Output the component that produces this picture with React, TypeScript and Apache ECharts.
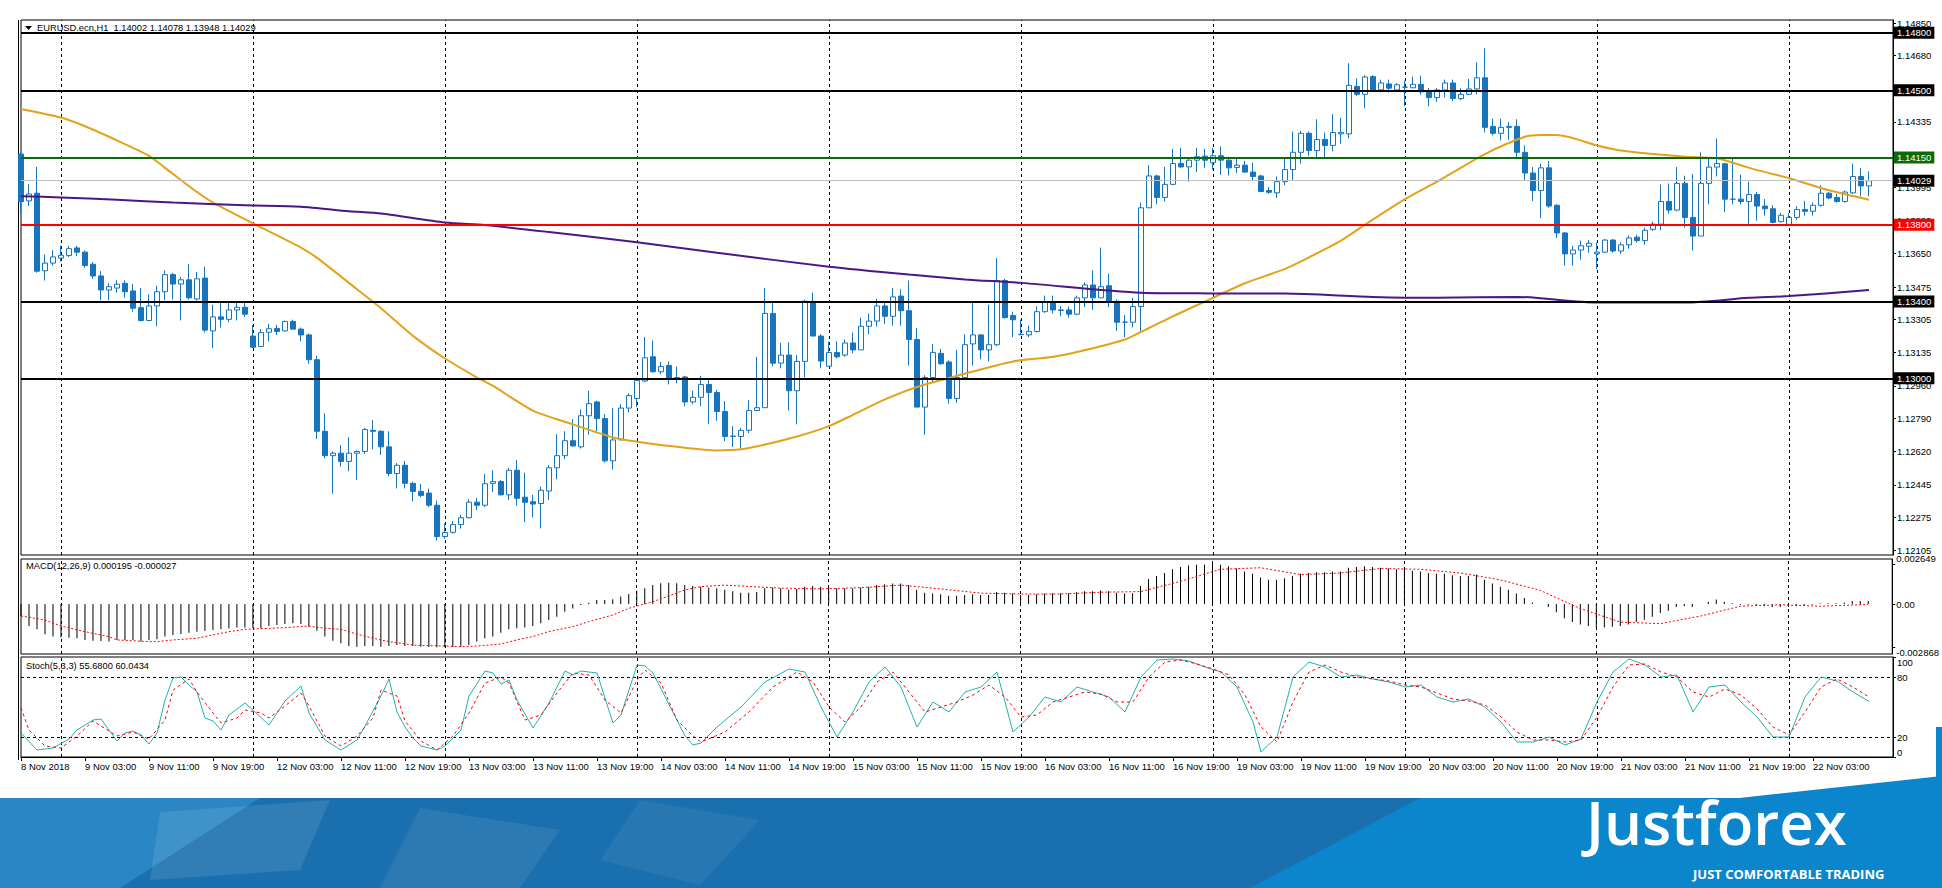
import React, { useEffect, useRef } from 'react';
import * as echarts from 'echarts';

const FONT = "'Liberation Sans', Arial, sans-serif";

// x-axis labels, one every 8 hourly bars starting at bar 0 (8 Nov 19:00)
const xLabels = ['8 Nov 2018', '9 Nov 03:00', '9 Nov 11:00', '9 Nov 19:00', '12 Nov 03:00', '12 Nov 11:00', '12 Nov 19:00', '13 Nov 03:00', '13 Nov 11:00', '13 Nov 19:00', '14 Nov 03:00', '14 Nov 11:00', '14 Nov 19:00', '15 Nov 03:00', '15 Nov 11:00', '15 Nov 19:00', '16 Nov 03:00', '16 Nov 11:00', '16 Nov 19:00', '19 Nov 03:00', '19 Nov 11:00', '19 Nov 19:00', '20 Nov 03:00', '20 Nov 11:00', '20 Nov 19:00', '21 Nov 03:00', '21 Nov 11:00', '21 Nov 19:00', '22 Nov 03:00'];

// price-axis tick labels (top to bottom)
const priceTicks = ['1.14850', '1.14680', '1.14510', '1.14335', '1.14165', '1.13995', '1.13820', '1.13650', '1.13475', '1.13305', '1.13135', '1.12960', '1.12790', '1.12620', '1.12445', '1.12275', '1.12105'];
const macdTicks = [0.002649, 0, -0.002868];
const stochTicks = [0, 20, 80, 100];

// hourly candles: [open, high, low, close]
const candles: number[][] = [
  [1.14168, 1.14180, 1.13860, 1.13920], [1.13924, 1.14011, 1.13897, 1.13960], [1.13964, 1.14101, 1.13550, 1.13558], [1.13560, 1.13645, 1.13509, 1.13600],
  [1.13600, 1.13668, 1.13587, 1.13632], [1.13626, 1.13690, 1.13608, 1.13641], [1.13639, 1.13690, 1.13632, 1.13675], [1.13679, 1.13690, 1.13636, 1.13657],
  [1.13657, 1.13666, 1.13576, 1.13587], [1.13594, 1.13605, 1.13518, 1.13533], [1.13533, 1.13558, 1.13406, 1.13460], [1.13460, 1.13495, 1.13406, 1.13477],
  [1.13470, 1.13510, 1.13446, 1.13490], [1.13495, 1.13510, 1.13419, 1.13451], [1.13455, 1.13490, 1.13347, 1.13365], [1.13368, 1.13470, 1.13296, 1.13301],
  [1.13301, 1.13437, 1.13301, 1.13377], [1.13377, 1.13482, 1.13271, 1.13451], [1.13451, 1.13563, 1.13406, 1.13540], [1.13540, 1.13549, 1.13410, 1.13491],
  [1.13491, 1.13527, 1.13301, 1.13513], [1.13513, 1.13596, 1.13410, 1.13419], [1.13413, 1.13554, 1.13404, 1.13518], [1.13522, 1.13581, 1.13238, 1.13251],
  [1.13247, 1.13383, 1.13157, 1.13320], [1.13320, 1.13392, 1.13265, 1.13307], [1.13307, 1.13392, 1.13292, 1.13356], [1.13356, 1.13392, 1.13301, 1.13370],
  [1.13370, 1.13392, 1.13320, 1.13334], [1.13220, 1.13278, 1.13157, 1.13162], [1.13166, 1.13256, 1.13166, 1.13238], [1.13240, 1.13283, 1.13193, 1.13258],
  [1.13260, 1.13278, 1.13226, 1.13244], [1.13247, 1.13301, 1.13244, 1.13296], [1.13296, 1.13305, 1.13256, 1.13256], [1.13256, 1.13265, 1.13193, 1.13226],
  [1.13226, 1.13233, 1.13076, 1.13097], [1.13097, 1.13117, 1.12684, 1.12724], [1.12724, 1.12818, 1.12583, 1.12597], [1.12597, 1.12619, 1.12399, 1.12610],
  [1.12610, 1.12652, 1.12540, 1.12567], [1.12567, 1.12693, 1.12516, 1.12610], [1.12610, 1.12625, 1.12471, 1.12619], [1.12619, 1.12742, 1.12606, 1.12733],
  [1.12729, 1.12782, 1.12630, 1.12724], [1.12724, 1.12729, 1.12601, 1.12643], [1.12643, 1.12724, 1.12489, 1.12504], [1.12504, 1.12558, 1.12426, 1.12547],
  [1.12547, 1.12570, 1.12426, 1.12453], [1.12453, 1.12462, 1.12359, 1.12411], [1.12411, 1.12449, 1.12381, 1.12390], [1.12402, 1.12426, 1.12330, 1.12339],
  [1.12339, 1.12363, 1.12155, 1.12176], [1.12176, 1.12244, 1.12164, 1.12197], [1.12198, 1.12256, 1.12191, 1.12238], [1.12238, 1.12289, 1.12217, 1.12274],
  [1.12274, 1.12370, 1.12270, 1.12355], [1.12355, 1.12377, 1.12314, 1.12339], [1.12339, 1.12502, 1.12330, 1.12451], [1.12453, 1.12521, 1.12408, 1.12462],
  [1.12462, 1.12470, 1.12390, 1.12393], [1.12393, 1.12534, 1.12366, 1.12521], [1.12521, 1.12574, 1.12336, 1.12375], [1.12381, 1.12508, 1.12251, 1.12354],
  [1.12357, 1.12393, 1.12276, 1.12345], [1.12348, 1.12435, 1.12218, 1.12417], [1.12413, 1.12547, 1.12366, 1.12534], [1.12534, 1.12709, 1.12474, 1.12597],
  [1.12597, 1.12724, 1.12579, 1.12675], [1.12675, 1.12787, 1.12643, 1.12648], [1.12643, 1.12838, 1.12634, 1.12805], [1.12805, 1.12935, 1.12706, 1.12868],
  [1.12877, 1.12883, 1.12724, 1.12790], [1.12790, 1.12814, 1.12561, 1.12570], [1.12570, 1.12845, 1.12525, 1.12679], [1.12679, 1.12865, 1.12679, 1.12845],
  [1.12845, 1.12922, 1.12823, 1.12910], [1.12895, 1.13004, 1.12850, 1.12989], [1.12986, 1.13215, 1.12980, 1.13107], [1.13112, 1.13197, 1.13031, 1.13034],
  [1.13034, 1.13085, 1.13022, 1.13061], [1.13067, 1.13088, 1.12968, 1.12998], [1.13004, 1.13061, 1.12973, 1.12998], [1.13007, 1.13013, 1.12854, 1.12877],
  [1.12877, 1.12935, 1.12865, 1.12901], [1.12901, 1.13013, 1.12854, 1.12968], [1.12968, 1.12995, 1.12763, 1.12926], [1.12926, 1.12940, 1.12779, 1.12827],
  [1.12827, 1.12881, 1.12673, 1.12697], [1.12697, 1.12751, 1.12643, 1.12699], [1.12697, 1.12742, 1.12634, 1.12729], [1.12729, 1.12886, 1.12715, 1.12832],
  [1.12832, 1.13112, 1.12832, 1.12847], [1.12847, 1.13470, 1.12847, 1.13338], [1.13338, 1.13395, 1.13063, 1.13079], [1.13079, 1.13184, 1.13052, 1.13121],
  [1.13121, 1.13188, 1.12832, 1.12935], [1.12935, 1.13121, 1.12760, 1.13088], [1.13088, 1.13410, 1.13004, 1.13401], [1.13401, 1.13446, 1.13220, 1.13220],
  [1.13220, 1.13229, 1.13052, 1.13090], [1.13063, 1.13190, 1.13063, 1.13134], [1.13134, 1.13193, 1.13103, 1.13112], [1.13121, 1.13202, 1.13112, 1.13184],
  [1.13184, 1.13238, 1.13130, 1.13148], [1.13148, 1.13316, 1.13148, 1.13271], [1.13271, 1.13338, 1.13229, 1.13298], [1.13298, 1.13413, 1.13269, 1.13377],
  [1.13377, 1.13399, 1.13283, 1.13323], [1.13323, 1.13470, 1.13274, 1.13424], [1.13428, 1.13464, 1.13274, 1.13352], [1.13352, 1.13509, 1.13067, 1.13202],
  [1.13202, 1.13262, 1.12850, 1.12850], [1.12850, 1.13016, 1.12706, 1.13004], [1.13004, 1.13179, 1.12977, 1.13135], [1.13130, 1.13153, 1.13070, 1.13076],
  [1.13085, 1.13094, 1.12868, 1.12895], [1.12895, 1.13148, 1.12872, 1.13004], [1.13004, 1.13229, 1.13004, 1.13175], [1.13179, 1.13395, 1.13067, 1.13226],
  [1.13226, 1.13229, 1.13099, 1.13148], [1.13148, 1.13383, 1.13088, 1.13175], [1.13175, 1.13626, 1.13166, 1.13509], [1.13509, 1.13518, 1.13311, 1.13316],
  [1.13327, 1.13347, 1.13215, 1.13305], [1.13227, 1.13305, 1.13226, 1.13229], [1.13226, 1.13274, 1.13215, 1.13244], [1.13244, 1.13374, 1.13238, 1.13347],
  [1.13347, 1.13431, 1.13341, 1.13395], [1.13395, 1.13431, 1.13338, 1.13356], [1.13356, 1.13377, 1.13323, 1.13353], [1.13356, 1.13374, 1.13316, 1.13334],
  [1.13334, 1.13431, 1.13329, 1.13419], [1.13419, 1.13500, 1.13370, 1.13486], [1.13486, 1.13563, 1.13356, 1.13419], [1.13419, 1.13681, 1.13419, 1.13477],
  [1.13482, 1.13545, 1.13370, 1.13401], [1.13401, 1.13410, 1.13247, 1.13292], [1.13292, 1.13329, 1.13215, 1.13292], [1.13292, 1.13419, 1.13265, 1.13374],
  [1.13374, 1.13915, 1.13244, 1.13888], [1.13888, 1.14110, 1.13888, 1.14054], [1.14054, 1.14060, 1.13906, 1.13942], [1.13942, 1.14101, 1.13921, 1.14010],
  [1.14010, 1.14195, 1.14006, 1.14119], [1.14119, 1.14200, 1.14096, 1.14101], [1.14101, 1.14141, 1.14024, 1.14136], [1.14136, 1.14200, 1.14074, 1.14154],
  [1.14157, 1.14195, 1.14096, 1.14136], [1.14123, 1.14200, 1.14087, 1.14159], [1.14159, 1.14207, 1.14060, 1.14136], [1.14136, 1.14154, 1.14056, 1.14096],
  [1.14098, 1.14150, 1.14069, 1.14110], [1.14110, 1.14132, 1.14069, 1.14074], [1.14074, 1.14123, 1.14033, 1.14051], [1.14054, 1.14060, 1.13969, 1.13973],
  [1.13978, 1.13996, 1.13960, 1.13969], [1.13966, 1.14051, 1.13939, 1.14024], [1.14024, 1.14150, 1.14006, 1.14087], [1.14087, 1.14285, 1.14028, 1.14177],
  [1.14177, 1.14289, 1.14118, 1.14276], [1.14276, 1.14285, 1.14159, 1.14186], [1.14186, 1.14349, 1.14150, 1.14244], [1.14244, 1.14280, 1.14150, 1.14213],
  [1.14213, 1.14376, 1.14182, 1.14280], [1.14273, 1.14356, 1.14222, 1.14280], [1.14273, 1.14641, 1.14250, 1.14526], [1.14520, 1.14562, 1.14471, 1.14479],
  [1.14479, 1.14579, 1.14406, 1.14569], [1.14571, 1.14579, 1.14497, 1.14502], [1.14502, 1.14556, 1.14489, 1.14538], [1.14533, 1.14556, 1.14489, 1.14511],
  [1.14502, 1.14538, 1.14497, 1.14529], [1.14516, 1.14550, 1.14417, 1.14516], [1.14513, 1.14571, 1.14511, 1.14531], [1.14531, 1.14576, 1.14477, 1.14492],
  [1.14492, 1.14511, 1.14417, 1.14462], [1.14462, 1.14511, 1.14440, 1.14502], [1.14502, 1.14556, 1.14462, 1.14538], [1.14538, 1.14556, 1.14444, 1.14457],
  [1.14457, 1.14511, 1.14448, 1.14479], [1.14479, 1.14559, 1.14475, 1.14507], [1.14507, 1.14646, 1.14479, 1.14565], [1.14565, 1.14719, 1.14280, 1.14307],
  [1.14312, 1.14352, 1.14265, 1.14276], [1.14276, 1.14352, 1.14239, 1.14307], [1.14312, 1.14334, 1.14242, 1.14307], [1.14312, 1.14349, 1.14141, 1.14177],
  [1.14177, 1.14213, 1.14033, 1.14069], [1.14069, 1.14100, 1.13924, 1.13978], [1.13978, 1.14118, 1.13834, 1.14096], [1.14096, 1.14132, 1.13888, 1.13897],
  [1.13901, 1.13906, 1.13731, 1.13757], [1.13757, 1.13762, 1.13587, 1.13648], [1.13648, 1.13690, 1.13587, 1.13668], [1.13668, 1.13717, 1.13618, 1.13690],
  [1.13688, 1.13720, 1.13654, 1.13703], [1.13648, 1.13708, 1.13569, 1.13657], [1.13657, 1.13726, 1.13654, 1.13720], [1.13720, 1.13726, 1.13654, 1.13663],
  [1.13663, 1.13708, 1.13648, 1.13695], [1.13695, 1.13744, 1.13675, 1.13731], [1.13735, 1.13748, 1.13706, 1.13717], [1.13717, 1.13785, 1.13695, 1.13771],
  [1.13776, 1.13816, 1.13767, 1.13803], [1.13803, 1.14009, 1.13771, 1.13921], [1.13921, 1.14015, 1.13858, 1.13876], [1.13876, 1.14100, 1.13870, 1.14015],
  [1.14015, 1.14055, 1.13785, 1.13838], [1.13838, 1.14064, 1.13666, 1.13741], [1.13741, 1.14177, 1.13741, 1.14015], [1.14015, 1.14150, 1.13906, 1.14100],
  [1.14100, 1.14249, 1.14051, 1.14119], [1.14117, 1.14123, 1.13865, 1.13933], [1.13933, 1.14150, 1.13906, 1.13933], [1.13933, 1.14060, 1.13906, 1.13921],
  [1.13921, 1.14024, 1.13794, 1.13957], [1.13957, 1.13970, 1.13821, 1.13897], [1.13897, 1.13933, 1.13847, 1.13883], [1.13883, 1.13901, 1.13807, 1.13812],
  [1.13816, 1.13861, 1.13811, 1.13849], [1.13802, 1.13861, 1.13798, 1.13838], [1.13838, 1.13897, 1.13825, 1.13879], [1.13879, 1.13924, 1.13847, 1.13870],
  [1.13870, 1.13915, 1.13847, 1.13901], [1.13901, 1.14006, 1.13894, 1.13964], [1.13964, 1.13970, 1.13933, 1.13939], [1.13942, 1.13960, 1.13915, 1.13921],
  [1.13921, 1.13978, 1.13915, 1.13970], [1.13966, 1.14118, 1.13960, 1.14051], [1.14051, 1.14096, 1.13948, 1.14002], [1.14002, 1.14078, 1.13948, 1.14029],
];

// moving averages read at points: [bar index, value]
const maFast: number[][] = [[0, 1.14403], [5, 1.14358], [8, 1.14313], [11, 1.14258], [16, 1.14159], [18, 1.14096], [22, 1.13970], [24, 1.13915], [29, 1.13807], [35, 1.13681], [37, 1.13627], [42, 1.13464], [45, 1.13365], [49, 1.13221], [53, 1.13103], [57, 1.13004], [59, 1.12960], [64, 1.12832], [69, 1.12760], [74, 1.12692], [77, 1.12670], [82, 1.12643], [87, 1.12624], [90, 1.12630], [93, 1.12655], [97, 1.12697], [101, 1.12751], [104, 1.12810], [108, 1.12890], [112, 1.12955], [117, 1.13013], [124, 1.13088], [129, 1.13112], [134, 1.13157], [138, 1.13202], [141, 1.13262], [144, 1.13323], [149, 1.13419], [153, 1.13495], [158, 1.13570], [161, 1.13630], [165, 1.13717], [168, 1.13800], [173, 1.13933], [177, 1.14024], [183, 1.14168], [188, 1.14258], [190, 1.14267], [192, 1.14267], [197, 1.14213], [200, 1.14186], [208, 1.14154], [212, 1.14146], [216, 1.14096], [221, 1.14042], [226, 1.13979], [231, 1.13930]];
const maSlow: number[][] = [[0, 1.13948], [5, 1.13942], [12, 1.13930], [19, 1.13915], [28, 1.13901], [35, 1.13894], [41, 1.13870], [45, 1.13858], [53, 1.13811], [58, 1.13798], [66, 1.13762], [77, 1.13708], [87, 1.13654], [101, 1.13581], [111, 1.13540], [118, 1.13515], [125, 1.13497], [140, 1.13446], [149, 1.13442], [158, 1.13441], [169, 1.13424], [177, 1.13419], [187, 1.13424], [197, 1.13395], [208, 1.13395], [216, 1.13419], [221, 1.13428], [231, 1.13460]];

// MACD histogram per bar, in units of 0.001
const macdHistE3 = [
  -0.79, -1.46, -1.68, -2.01, -2.16, -2.21, -2.23, -2.27, -2.38, -2.43,
  -2.45, -2.49, -2.38, -2.38, -2.38, -2.49, -2.38, -2.34, -2.16, -2.05,
  -1.99, -1.90, -1.83, -1.77, -1.72, -1.68, -1.61, -1.55, -1.55, -1.57,
  -1.61, -1.46, -1.39, -1.32, -1.28, -1.32, -1.50, -1.77, -2.16, -2.43,
  -2.60, -2.78, -2.83, -2.78, -2.78, -2.83, -2.78, -2.72, -2.78, -2.78,
  -2.83, -2.85, -2.86, -2.868, -2.85, -2.83, -2.72, -2.49, -2.27, -2.16,
  -1.90, -1.68, -1.61, -1.55, -1.46, -1.28, -1.06, -0.84, -0.51, -0.29,
  -0.07, 0.09, 0.26, 0.26, 0.31, 0.49, 0.66, 0.88, 1.04, 1.26,
  1.37, 1.41, 1.37, 1.26, 1.19,
  1.15, 1.10, 1.05, 0.95, 0.85, 0.75,
  0.75, 0.80, 1.05, 1.10, 1.05, 0.95,
  1.00, 1.15, 1.20, 1.15, 1.10, 1.05, 1.05, 1.05,
  1.10, 1.15, 1.25, 1.30, 1.35, 1.35, 1.25, 0.95,
  0.75, 0.70, 0.65, 0.55, 0.55, 0.60, 0.65,
  0.60, 0.60, 0.80, 0.75, 0.70, 0.60, 0.60,
  0.65, 0.70, 0.72, 0.72, 0.72, 0.78, 0.85, 0.85, 0.90, 0.85, 0.75, 0.70, 0.72,
  1.20, 1.65, 1.85, 2.05, 2.30, 2.45, 2.55, 2.60, 2.62, 2.649, 2.60, 2.50, 2.35,
  2.15, 2.00, 1.75, 1.60, 1.60, 1.70, 1.85, 2.00,
  2.05, 2.10, 2.10, 2.15, 2.15, 2.40, 2.45, 2.50, 2.45, 2.40,
  2.35, 2.30, 2.25, 2.20, 2.15, 2.05, 2.00, 2.00, 1.90, 1.85, 1.85, 1.95,
  1.60, 1.35, 1.15, 0.95, 0.70, 0.40, 0.10, 0.00,
  -0.20, -0.55, -0.95, -1.20, -1.35, -1.45, -1.55, -1.55, -1.50, -1.45, -1.35, -1.20, -1.05,
  -0.85, -0.60, -0.45, -0.20, -0.15, -0.20, 0.00, 0.15, 0.30,
  0.15, 0.05, -0.05, -0.05, -0.10, -0.15, -0.20, -0.20, -0.20, -0.15, -0.10, -0.05, 0.05, 0.05, 0.05, 0.10, 0.20, 0.20, 0.195,
];
// MACD signal read at points: [bar index, value x 0.001]
const macdSignalE3: number[][] = [[0, -0.79], [3, -1.06], [5, -1.46], [8, -1.83], [11, -2.16], [12, -2.38], [16, -2.49], [17, -2.49], [19, -2.38], [22, -2.27], [24, -2.05], [26, -1.83], [28, -1.68], [31, -1.61], [33, -1.57], [36, -1.46], [37, -1.55], [40, -1.68], [42, -1.99], [44, -2.27], [46, -2.49], [49, -2.72], [51, -2.76], [53, -2.78], [55, -2.83], [57, -2.78], [60, -2.65], [62, -2.38], [64, -2.16], [66, -1.83], [69, -1.50], [71, -1.17], [74, -0.73], [76, -0.29], [79, 0.15], [81, 0.53], [83, 0.93], [85, 1.15], [88, 1.25], [95, 1.05], [100, 1.0], [105, 1.08], [110, 1.25], [115, 1.0], [120, 0.72], [125, 0.66], [130, 0.66], [135, 0.78], [140, 0.82], [145, 1.5], [150, 2.3], [155, 2.4], [160, 1.95], [165, 2.05], [170, 2.35], [175, 2.3], [180, 2.05], [185, 1.6], [190, 0.9], [195, -0.3], [200, -1.2], [205, -1.3], [210, -0.8], [215, -0.15], [220, -0.05], [225, -0.15], [231, -0.027]];

// Stochastic %K and %D read at points: [bar index, value]
const stochK: number[][] = [[0, 24], [2, 7], [4, 9], [6, 18], [7, 27], [9, 37], [10, 38], [12, 16], [13, 24], [14, 26], [15, 22], [16, 13], [17, 24], [18, 57], [19, 79], [20, 80], [21, 72], [22, 65], [23, 39], [24, 36], [25, 27], [26, 42], [28, 54], [29, 47], [31, 32], [33, 56], [35, 71], [36, 44], [38, 17], [40, 7], [42, 17], [43, 31], [45, 61], [46, 78], [47, 45], [48, 30], [49, 19], [50, 11], [52, 7], [53, 11], [55, 27], [56, 61], [58, 86], [59, 84], [60, 73], [61, 77], [62, 57], [64, 29], [66, 54], [68, 86], [69, 82], [70, 86], [72, 84], [74, 34], [75, 42], [77, 92], [78, 91], [79, 84], [83, 21], [84, 12], [85, 14], [87, 30], [90, 50], [93, 75], [96, 88], [98, 85], [100, 50], [102, 20], [104, 45], [106, 75], [108, 90], [110, 70], [112, 30], [114, 55], [116, 45], [118, 65], [120, 70], [122, 85], [124, 25], [126, 40], [128, 60], [130, 55], [132, 70], [134, 65], [136, 60], [138, 45], [140, 80], [142, 97], [144, 98], [146, 96], [148, 90], [150, 85], [152, 70], [154, 35], [155, 5], [157, 20], [159, 80], [161, 95], [163, 90], [165, 80], [167, 82], [169, 78], [171, 75], [173, 70], [175, 72], [177, 60], [179, 55], [181, 58], [183, 50], [185, 35], [187, 15], [189, 15], [191, 20], [193, 12], [195, 18], [197, 55], [199, 85], [201, 98], [203, 92], [205, 80], [207, 82], [209, 45], [211, 70], [213, 72], [215, 55], [217, 40], [219, 20], [221, 20], [223, 60], [225, 80], [227, 76], [229, 65], [231, 55.68]];
const stochD: number[][] = [[0, 49], [1, 27], [3, 11], [5, 9], [7, 21], [9, 36], [10, 31], [12, 21], [14, 25], [16, 18], [18, 37], [19, 67], [21, 78], [22, 65], [24, 44], [25, 34], [27, 39], [28, 47], [30, 44], [31, 39], [33, 51], [35, 64], [36, 51], [38, 21], [40, 11], [42, 21], [44, 39], [45, 67], [47, 61], [48, 36], [50, 16], [52, 7], [54, 21], [56, 44], [58, 74], [60, 80], [61, 74], [63, 37], [65, 42], [67, 64], [69, 84], [71, 82], [73, 57], [75, 44], [77, 77], [78, 87], [80, 74], [82, 37], [84, 21], [85, 15], [88, 25], [91, 45], [94, 70], [97, 85], [99, 75], [101, 50], [103, 35], [105, 50], [107, 75], [109, 85], [111, 65], [113, 45], [115, 50], [117, 55], [119, 62], [121, 72], [123, 60], [125, 40], [127, 42], [129, 55], [131, 60], [133, 65], [135, 63], [137, 55], [139, 55], [141, 80], [143, 95], [145, 97], [147, 93], [149, 88], [151, 82], [153, 62], [155, 30], [157, 15], [159, 55], [161, 85], [163, 92], [165, 85], [167, 80], [169, 78], [171, 76], [173, 72], [175, 70], [177, 64], [179, 58], [181, 56], [183, 52], [185, 40], [187, 25], [189, 17], [191, 17], [193, 15], [195, 17], [197, 40], [199, 70], [201, 92], [203, 93], [205, 85], [207, 80], [209, 65], [211, 60], [213, 68], [215, 62], [217, 48], [219, 30], [221, 22], [223, 45], [225, 70], [227, 78], [229, 70], [231, 60.04]];

// horizontal levels
const levels = [
  { value: 1.148, color: '#000000', bg: '#000000' },
  { value: 1.145, color: '#000000', bg: '#000000' },
  { value: 1.1415, color: '#0b6b0b', bg: '#0b6b0b' },
  { value: 1.138, color: '#ff0000', bg: '#ff0000' },
  { value: 1.134, color: '#000000', bg: '#000000' },
  { value: 1.13, color: '#000000', bg: '#000000' },
];
const lastPrice = 1.14029;
const dayGridBars = [5, 29, 53, 77, 101, 125, 149, 173, 197, 221];
const header = 'EURUSD.ecn,H1  1.14002 1.14078 1.13948 1.14029';
const macdTitle = 'MACD(12,26,9) 0.000195 -0.000027';
const stochTitle = 'Stoch(5,3,3) 55.6800 60.0434';

const NCAT = 235;

export default function App() {
  const ref = useRef<HTMLDivElement>(null);
  useEffect(() => {
    const chart = echarts.init(ref.current!, null, { renderer: 'svg' });
    const cats = Array.from({ length: NCAT }, (_, i) => (i % 8 === 0 && i / 8 < xLabels.length ? xLabels[i / 8] : ''));
    const labelIdx = (i: number) => i % 8 === 0 && i / 8 < xLabels.length;
    const vLines = {
      symbol: 'none', silent: true, z: 1, animation: false, precision: 5,
      label: { show: false },
      lineStyle: { color: '#000', type: [3, 3], width: 1 },
      data: dayGridBars.map((b) => ({ xAxis: b })),
    };
    const gridCommon = { left: 21, width: 1872, show: true, borderColor: '#000', borderWidth: 1, backgroundColor: '#fff' };
    const hiddenX = (gi: number) => ({
      type: 'category', gridIndex: gi, data: cats, boundaryGap: false,
      axisLine: { show: false }, axisTick: { show: false }, axisLabel: { show: false }, splitLine: { show: false },
    });
    const lbl = { fontFamily: FONT, fontSize: 9.5, color: '#000' };
    const boxLabel = (text: string, bg: string) => ({
      show: true, position: 'end', distance: 1, formatter: text, color: '#fff', backgroundColor: bg,
      padding: [1, 3, 0, 3], fontFamily: FONT, fontSize: 9.5, lineHeight: 11,
    });

    const option: any = {
      animation: false,
      backgroundColor: '#fff',
      grid: [
        { ...gridCommon, top: 20, height: 535 },
        { ...gridCommon, top: 559, height: 95 },
        { ...gridCommon, top: 657, height: 100 },
      ],
      xAxis: [
        hiddenX(0),
        hiddenX(1),
        {
          type: 'category', gridIndex: 2, data: cats, boundaryGap: false,
          axisLine: { show: true, lineStyle: { color: '#000' } },
          axisTick: { show: true, interval: (i: number) => labelIdx(i), length: 4, lineStyle: { color: '#000' } },
          axisLabel: { show: true, interval: (i: number) => labelIdx(i), align: 'left', margin: 4, ...lbl },
          splitLine: { show: false },
        },
      ],
      yAxis: [
        {
          type: 'value', gridIndex: 0, position: 'right', scale: true, min: 1.120797, max: 1.148661,
          axisLine: { show: true, lineStyle: { color: '#000' } },
          axisTick: { show: true, length: 3, customValues: priceTicks.map(Number), lineStyle: { color: '#000' } },
          axisLabel: { show: true, margin: 4, customValues: priceTicks.map(Number), formatter: (v: number) => v.toFixed(5), ...lbl },
          splitLine: { show: false },
        },
        {
          type: 'value', gridIndex: 1, position: 'right', min: -0.003311, max: 0.00298,
          axisLine: { show: true, lineStyle: { color: '#000' } },
          axisTick: { show: true, length: 3, customValues: macdTicks, lineStyle: { color: '#000' } },
          axisLabel: { show: true, margin: 4, customValues: macdTicks, formatter: (v: number) => (v === 0 ? '0.00' : v.toFixed(6)), ...lbl, verticalAlignMaxLabel: 'top', verticalAlignMinLabel: 'bottom' },
          splitLine: { show: false },
        },
        {
          type: 'value', gridIndex: 2, position: 'right', min: 0, max: 100,
          axisLine: { show: true, lineStyle: { color: '#000' } },
          axisTick: { show: true, length: 3, customValues: stochTicks, lineStyle: { color: '#000' } },
          axisLabel: { show: true, margin: 4, customValues: stochTicks, formatter: (v: number) => String(v), ...lbl, verticalAlignMaxLabel: 'top', verticalAlignMinLabel: 'bottom' },
          splitLine: { show: false },
        },
      ],
      series: [
        {
          type: 'candlestick', xAxisIndex: 0, yAxisIndex: 0, z: 3, barWidth: 5,
          data: candles.map(([o, h, l, c]) => [o, c, l, h]),
          itemStyle: { color: '#ffffff', color0: '#1874bb', borderColor: '#1874bb', borderColor0: '#1874bb', borderWidth: 1 },
          markLine: {
            symbol: 'none', silent: true, z: 5, animation: false, precision: 5,
            data: [
              { yAxis: lastPrice, lineStyle: { color: '#c0c0c0', width: 1, type: 'solid' }, label: boxLabel(lastPrice.toFixed(5), '#000') },
              ...levels.map((lv) => ({
                yAxis: lv.value,
                lineStyle: { color: lv.color, width: 2, type: 'solid' },
                label: boxLabel(lv.value.toFixed(5), lv.bg),
              })),
            ],
          },
        },
        {
          type: 'line', xAxisIndex: 0, yAxisIndex: 0, z: 4, data: maFast, smooth: 0.25, showSymbol: false, symbol: 'none',
          lineStyle: { color: '#e3a21a', width: 2 },
        },
        {
          type: 'line', xAxisIndex: 0, yAxisIndex: 0, z: 4, data: maSlow, smooth: 0.25, showSymbol: false, symbol: 'none',
          lineStyle: { color: '#4b1689', width: 2 },
          markLine: vLines,
        },
        {
          type: 'bar', xAxisIndex: 1, yAxisIndex: 1, barWidth: 1, z: 3,
          data: macdHistE3.map((v) => v / 1000),
          itemStyle: { color: '#000' },
          markLine: vLines,
        },
        {
          type: 'line', xAxisIndex: 1, yAxisIndex: 1, z: 4, symbol: 'none', showSymbol: false,
          data: macdSignalE3.map(([i, v]) => [i, v / 1000]),
          lineStyle: { color: '#ff0000', width: 1, type: [2, 2] },
        },
        {
          type: 'line', xAxisIndex: 2, yAxisIndex: 2, z: 4, symbol: 'none', showSymbol: false, data: stochK,
          lineStyle: { color: '#20b2aa', width: 1 },
          markLine: {
            ...vLines,
            data: [...dayGridBars.map((b) => ({ xAxis: b })), { yAxis: 80 }, { yAxis: 20 }],
          },
        },
        {
          type: 'line', xAxisIndex: 2, yAxisIndex: 2, z: 4, symbol: 'none', showSymbol: false, data: stochD,
          lineStyle: { color: '#ff0000', width: 1, type: [3, 3] },
        },
      ],
      graphic: [
        { type: 'line', shape: { x1: 18.5, y1: 20, x2: 18.5, y2: 760 }, style: { stroke: '#000', lineWidth: 1 }, silent: true },
        { type: 'polygon', shape: { points: [[25, 26], [32, 26], [28.5, 30]] }, style: { fill: '#000' }, silent: true },
        { type: 'text', x: 37, y: 28, style: { text: header, fill: '#000', fontFamily: FONT, fontSize: 9.3, textVerticalAlign: 'middle', verticalAlign: 'middle' }, silent: true, z: 10 },
        { type: 'text', x: 26, y: 566, style: { text: macdTitle, fill: '#000', fontFamily: FONT, fontSize: 9.3, textVerticalAlign: 'middle', verticalAlign: 'middle' }, silent: true, z: 10 },
        { type: 'text', x: 26, y: 666, style: { text: stochTitle, fill: '#000', fontFamily: FONT, fontSize: 9.3, textVerticalAlign: 'middle', verticalAlign: 'middle' }, silent: true, z: 10 },
        // banner
        { type: 'rect', shape: { x: 0, y: 798, width: 1942, height: 90 }, style: { fill: '#1a6fae' }, silent: true },
        { type: 'polygon', shape: { points: [[0, 798], [260, 798], [120, 888], [0, 888]] }, style: { fill: '#2a86c4' }, silent: true },
        { type: 'polygon', shape: { points: [[160, 812], [330, 800], [300, 870], [150, 880]] }, style: { fill: 'rgba(255,255,255,0.10)' }, silent: true },
        { type: 'polygon', shape: { points: [[420, 808], [560, 830], [520, 888], [380, 888]] }, style: { fill: 'rgba(255,255,255,0.08)' }, silent: true },
        { type: 'polygon', shape: { points: [[640, 800], [760, 820], [700, 885], [600, 860]] }, style: { fill: 'rgba(255,255,255,0.06)' }, silent: true },
        { type: 'polygon', shape: { points: [[1250, 888], [1420, 798], [1942, 798], [1942, 888]] }, style: { fill: '#0b86cc' }, silent: true },
        { type: 'polygon', shape: { points: [[1730, 799], [1942, 776], [1942, 800]] }, style: { fill: '#0b86cc' }, silent: true },
        { type: 'rect', shape: { x: 1936, y: 727, width: 6, height: 75 }, style: { fill: '#0b86cc' }, silent: true },
        { type: 'text', x: 1586, y: 822, style: { text: 'Justforex', fill: '#fff', fontFamily: "'Open Sans', sans-serif", fontWeight: 600, fontSize: 60, textVerticalAlign: 'middle', verticalAlign: 'middle' }, silent: true, z: 10 },
        { type: 'text', x: 1693, y: 874, style: { text: 'JUST COMFORTABLE TRADING', fill: '#fff', fontFamily: "'Open Sans', sans-serif", fontWeight: 700, fontSize: 13, textVerticalAlign: 'middle', verticalAlign: 'middle' }, silent: true, z: 10 },
      ],
    };
    chart.setOption(option);
    return () => chart.dispose();
  }, []);
  return <div ref={ref} style={{ position: 'fixed', left: 0, top: 0, width: 1942, height: 888, background: '#fff' }} />;
}
